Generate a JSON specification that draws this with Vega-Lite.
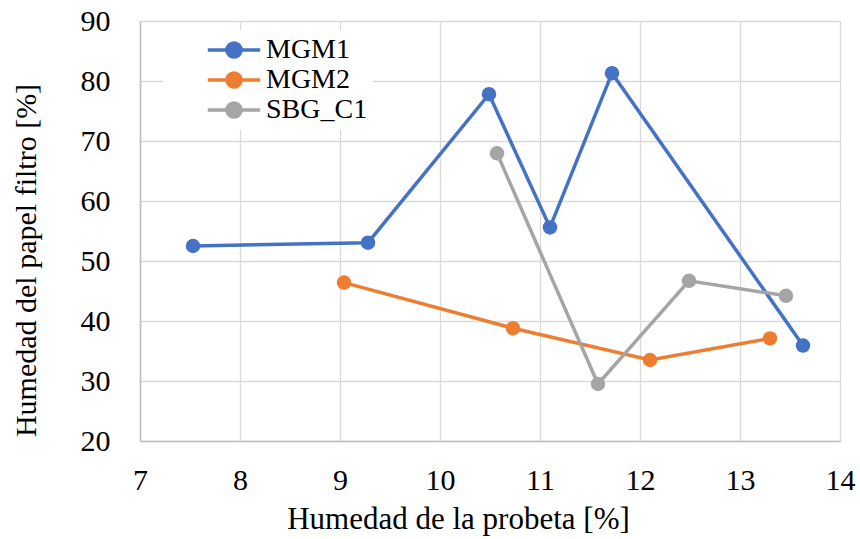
{
  "$schema": "https://vega.github.io/schema/vega-lite/v6.json",
  "width": 700,
  "height": 420,
  "autosize": {"type": "none"},
  "padding": {"left": 140, "top": 21, "right": 20, "bottom": 98},
  "background": "white",
  "config": {
    "font": "Liberation Serif",
    "axis": {"labelFont": "Liberation Serif", "titleFont": "Liberation Serif"},
    "legend": {"labelFont": "Liberation Serif"},
    "view": {"stroke": null}
  },
  "data": {
    "values": [
      {"serie": "MGM1", "x": 7.53, "y": 52.5},
      {"serie": "MGM1", "x": 9.28, "y": 53.05},
      {"serie": "MGM1", "x": 10.49, "y": 77.8},
      {"serie": "MGM1", "x": 11.10, "y": 55.6},
      {"serie": "MGM1", "x": 11.72, "y": 81.3},
      {"serie": "MGM1", "x": 13.63, "y": 35.9},
      {"serie": "MGM2", "x": 9.04, "y": 46.4},
      {"serie": "MGM2", "x": 10.73, "y": 38.8},
      {"serie": "MGM2", "x": 12.10, "y": 33.5},
      {"serie": "MGM2", "x": 13.30, "y": 37.1},
      {"serie": "SBG_C1", "x": 10.57, "y": 67.95},
      {"serie": "SBG_C1", "x": 11.58, "y": 29.5},
      {"serie": "SBG_C1", "x": 12.49, "y": 46.7},
      {"serie": "SBG_C1", "x": 13.46, "y": 44.2}
    ]
  },
  "encoding": {
    "x": {
      "field": "x", "type": "quantitative",
      "scale": {"domain": [7, 14], "nice": false, "zero": false},
      "axis": {
        "title": "Humedad de la probeta [%]",
        "values": [7, 8, 9, 10, 11, 12, 13, 14],
        "grid": true, "gridColor": "#D9D9D9", "gridWidth": 1.3,
        "domainColor": "#BFBFBF", "domainWidth": 1.5,
        "ticks": false,
        "labelFontSize": 30, "labelColor": "#000000", "labelPadding": 24,
        "labelFlush": false,
        "titleFontSize": 31, "titleFontWeight": "normal", "titleColor": "#000000",
        "titleX": 318, "titleY": 78, "titleBaseline": "middle"
      }
    },
    "y": {
      "field": "y", "type": "quantitative",
      "scale": {"domain": [20, 90], "nice": false, "zero": false},
      "axis": {
        "title": "Humedad del papel filtro [%]",
        "values": [20, 30, 40, 50, 60, 70, 80, 90],
        "grid": true, "gridColor": "#D9D9D9", "gridWidth": 1.3,
        "domainColor": "#BFBFBF", "domainWidth": 1.5,
        "ticks": false,
        "labelFontSize": 30, "labelColor": "#000000", "labelPadding": 30,
        "labelFlush": false,
        "titleFontSize": 30, "titleFontWeight": "normal", "titleColor": "#000000",
        "titleAngle": -90, "titleX": -114, "titleY": 239, "titleBaseline": "middle"
      }
    },
    "color": {
      "field": "serie", "type": "nominal",
      "scale": {"domain": ["MGM1", "MGM2", "SBG_C1"], "range": ["#4472C4", "#ED7D31", "#A5A5A5"]},
      "legend": {
        "title": null,
        "orient": "none",
        "legendX": 23,
        "legendY": 9,
        "fillColor": "white",
        "padding": 5,
        "symbolOffset": 38,
        "symbolType": "M-1,0L1,0M0.27,0A0.27,0.27,0,1,1,-0.27,0A0.27,0.27,0,1,1,0.27,0Z",
        "symbolSize": 2750,
        "symbolStrokeWidth": 3.5,
        "clipHeight": 30,
        "rowPadding": 0,
        "labelFontSize": 28,
        "labelColor": "#000000",
        "labelOffset": 4,
        "encode": {
          "symbols": {
            "update": {
              "fill": {"scale": "color", "field": "value"},
              "stroke": {"scale": "color", "field": "value"},
              "opacity": {"value": 1}
            }
          }
        }
      }
    }
  },
  "layer": [
    {
      "mark": {"type": "line", "strokeWidth": 3.5},
      "encoding": {}
    },
    {
      "mark": {"type": "point", "filled": true, "size": 210, "opacity": 1, "shape": "circle"},
      "encoding": {}
    }
  ]
}
